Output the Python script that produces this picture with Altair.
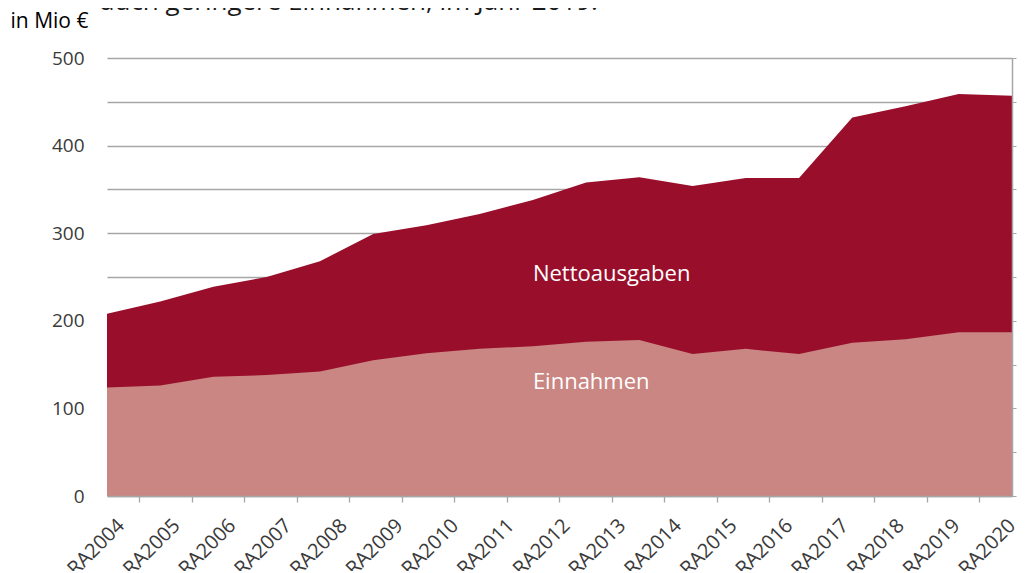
import json
import altair as alt
import pandas as pd

# ---- data ----
jahre = ["RA2004", "RA2005", "RA2006", "RA2007", "RA2008", "RA2009", "RA2010",
         "RA2011", "RA2012", "RA2013", "RA2014", "RA2015", "RA2016", "RA2017",
         "RA2018", "RA2019", "RA2020"]
stuetzstellen = list(range(18))
einnahmen = [124, 126, 136, 138, 142, 155, 163, 168, 171, 176, 178, 162, 168, 162, 175, 179, 187, 187]
nettoausgaben = [84, 96, 103, 112, 126, 144, 146, 154, 167, 182, 186, 192, 195, 201, 257, 266, 272, 270]
beschriftungen = ["Nettoausgaben", "Einnahmen"]
kopfzeile = "auch geringere Einnahmen, im Jahr 2019."

df = pd.DataFrame({"stelle": stuetzstellen, "einnahmen": einnahmen, "netto": nettoausgaben})
anno = pd.DataFrame({"text": beschriftungen, "px": [8, 8], "py": [253, 130]})

DUNKEL = "#990e2b"
HELL = "#c98682"
GRAU = "#a6a6a6"
TXT = "#3a3a3a"
FONT = "Open Sans"

L0, LS = 0.125, 1.0463
tick_werte = [0.607 + 0.9862 * k for k in range(len(jahre))]
label_werte = [L0 + LS * k for k in range(len(jahre))]
label_expr = f"{json.dumps(jahre)}[round((datum.value - {L0}) / {LS})]"

xs = alt.Scale(domain=[0, 17], nice=False, zero=False)
ys = alt.Scale(domain=[0, 500], nice=False)
y_vals = list(range(0, 501, 50))

dark = alt.Chart(df).transform_calculate(
    gesamt="datum.einnahmen + datum.netto"
).mark_area(color=DUNKEL).encode(
    x=alt.X("stelle:Q", scale=xs, axis=None),
    y=alt.Y("gesamt:Q", scale=ys, axis=None),
)

light = alt.Chart(df).mark_area(color=HELL).encode(
    x=alt.X("stelle:Q", scale=xs, axis=alt.Axis(
        values=tick_werte, labels=False, ticks=True, tickSize=6, tickColor=GRAU,
        tickWidth=1.3, domain=True, domainColor=GRAU, domainWidth=1.5, grid=False,
        title=None, zindex=1)),
    y=alt.Y("einnahmen:Q", scale=ys, axis=alt.Axis(
        values=y_vals, labelExpr="datum.value % 100 === 0 ? datum.label : ''",
        ticks=False, tickSize=0, domain=False, grid=True, gridColor=GRAU, gridWidth=1.3,
        labelPadding=23, labelFontSize=19, labelColor=TXT, labelFont=FONT,
        title="in Mio €", titleAngle=0, titleAlign="left", titleBaseline="alphabetic",
        titleX=-97, titleY=-31, titleFontSize=21, titleFontWeight="normal",
        titleColor="#000000", titleFont=FONT, zindex=0)),
)

texte = alt.Chart(anno).mark_text(
    align="left", baseline="middle", fontSize=22, font=FONT, color="#ffffff"
).encode(
    x=alt.X("px:Q", scale=xs, axis=alt.Axis(
        orient="bottom", values=label_werte, labelExpr=label_expr, ticks=False,
        tickSize=0, domain=False, grid=False, labelAngle=-45, labelAlign="right",
        labelBaseline="top", labelPadding=19, labelFontSize=20, labelColor=TXT,
        labelFont=FONT, labelOverlap=False, labelBound=False, labelFlush=False,
        title=None)),
    y=alt.Y("py:Q", scale=ys, axis=alt.Axis(
        orient="right", values=y_vals, labels=False, ticks=True, tickSize=4,
        tickColor=GRAU, domain=True, domainColor=GRAU, domainWidth=1.5,
        grid=False, title=None, zindex=1)),
    text="text:N",
)

kopf = alt.Chart(pd.DataFrame({"t": [kopfzeile]})).mark_text(
    align="left", baseline="alphabetic", fontSize=26, font=FONT, color="#1a1a1a"
).encode(x=alt.value(-7), y=alt.value(-48), text="t:N")

chart = alt.layer(dark, light, texte, kopf).resolve_axis(
    x="independent", y="independent"
).properties(
    width=905, height=438,
    autosize=alt.AutoSizeParams(type="none"),
    padding={"left": 99, "top": 50, "right": 6, "bottom": 75},
).configure_view(strokeWidth=0)

chart.save("out.html", embed_options={"renderer": "svg", "actions": False})
